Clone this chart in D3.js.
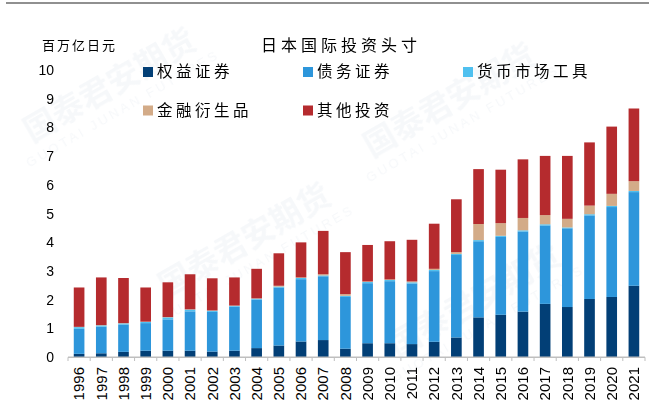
<!doctype html>
<html>
<head>
<meta charset="utf-8">
<script src="https://cdnjs.cloudflare.com/ajax/libs/d3/7.8.5/d3.min.js"></script>
<style>
body { margin: 0; background: #fff; }
svg { display: block; }
text { font-family: "Liberation Sans", Arial, sans-serif; }
.cjk { font-family: "Noto Sans CJK SC", sans-serif; }
</style>
</head>
<body>
<svg id="chart" width="649" height="414"></svg>
<script>
// 日本国际投资头寸, unit: 百万亿日元
var years = ["1996","1997","1998","1999","2000","2001","2002","2003","2004","2005","2006","2007","2008",
             "2009","2010","2011","2012","2013","2014","2015","2016","2017","2018","2019","2020","2021"];
var equity = [0.12,0.14,0.19,0.23,0.23,0.23,0.20,0.23,0.32,0.41,0.55,0.60,0.30,
              0.49,0.49,0.46,0.54,0.69,1.39,1.48,1.59,1.86,1.75,2.03,2.10,2.49];
var debt   = [0.87,0.93,0.95,0.96,1.09,1.37,1.38,1.53,1.69,2.02,2.17,2.22,1.80,
              2.09,2.16,2.11,2.46,2.87,2.65,2.71,2.79,2.73,2.74,2.91,3.13,3.26];
var moneyMarket = [0.06,0.04,0.04,0.04,0.07,0.06,0.04,0.03,0.03,0.03,0.04,0.03,0.04,
                   0.04,0.04,0.04,0.04,0.04,0.04,0.04,0.04,0.04,0.03,0.04,0.04,0.04];
var derivatives = [0.01,0.01,0.01,0.01,0.01,0.01,0.01,0.01,0.01,0.03,0.02,0.04,0.06,
                   0.02,0.02,0.03,0.04,0.06,0.56,0.44,0.43,0.32,0.30,0.30,0.42,0.34];
var otherInv = [1.37,1.66,1.57,1.19,1.21,1.22,1.12,0.98,1.03,1.13,1.22,1.51,1.46,
                1.27,1.33,1.45,1.57,1.84,1.91,1.86,2.04,2.06,2.19,2.20,2.34,2.53];
var seriesNames = ["权益证券","债务证券","货币市场工具","金融衍生品","其他投资"];
var colors = ["#023f76","#2d96db","#4fc0ef","#d3ab88","#b52b2e"];
var yTicks = [0,1,2,3,4,5,6,7,8,9,10];

var svg = d3.select("#chart");

// faint watermark
var wm = svg.append("g").attr("fill", "#4a6f9a").attr("opacity", 0.05);
[[115,95],[250,250],[455,110],[480,310]].forEach(function(p) {
  var g = wm.append("g").attr("transform", "translate(" + p[0] + "," + p[1] + ") rotate(-30)");
  g.append("text").attr("class", "cjk").attr("text-anchor", "middle")
    .style("font-size", "32px").style("font-weight", "bold").text("国泰君安期货");
  g.append("text").attr("text-anchor", "middle").attr("y", 20)
    .style("font-size", "13px").style("letter-spacing", "3px").text("GUOTAI JUNAN FUTURES");
});

svg.append("line").attr("x1", 6).attr("x2", 649).attr("y1", 3).attr("y2", 3)
  .attr("stroke", "#6b6b6b").attr("stroke-width", 1.5);

var table = years.map(function(y, i) {
  return { year: y, s0: equity[i], s1: debt[i], s2: moneyMarket[i], s3: derivatives[i], s4: otherInv[i] };
});
var stack = d3.stack().keys(["s0","s1","s2","s3","s4"])(table);

var x = d3.scaleBand().domain(years).range([68, 645]).paddingInner(0.52).paddingOuter(0.26);
var y = d3.scaleLinear().domain([0, 10]).range([357.3, 70]);

svg.append("g").selectAll("g")
  .data(stack).enter().append("g")
  .attr("fill", function(d, i) { return colors[i]; })
  .selectAll("rect")
  .data(function(d) { return d; }).enter().append("rect")
  .attr("x", function(d) { return x(d.data.year); })
  .attr("width", x.bandwidth())
  .attr("y", function(d) { return y(d[1]); })
  .attr("height", function(d) { return y(d[0]) - y(d[1]); });

// x axis line and category ticks
var step = x.step();
svg.append("line").attr("x1", 68).attr("x2", 645).attr("y1", 357.3).attr("y2", 357.3)
  .attr("stroke", "#bfbfbf").attr("stroke-width", 1.5);
svg.append("g").selectAll("line")
  .data(d3.range(years.length + 1)).enter().append("line")
  .attr("x1", function(i) { return 68 + i * step; })
  .attr("x2", function(i) { return 68 + i * step; })
  .attr("y1", 357.3).attr("y2", 361)
  .attr("stroke", "#bfbfbf");

svg.append("g").selectAll("text")
  .data(years).enter().append("text")
  .attr("transform", function(d) { return "translate(" + (x(d) + x.bandwidth() / 2) + ",367) rotate(-90)"; })
  .attr("text-anchor", "end").attr("dy", "0.35em")
  .style("font-size", "15px").attr("fill", "#000")
  .text(function(d) { return d; });

svg.append("g").selectAll("text")
  .data(yTicks).enter().append("text")
  .attr("x", 54).attr("y", function(d) { return y(d); })
  .attr("dy", "0.35em").attr("text-anchor", "end")
  .style("font-size", "14px").attr("fill", "#000")
  .text(function(d) { return d; });

svg.append("text").attr("class", "cjk").attr("x", 42).attr("y", 45).attr("dy", "0.35em")
  .style("font-size", "13px").style("letter-spacing", "2px").text("百万亿日元");

svg.append("text").attr("class", "cjk").attr("x", 341).attr("y", 45).attr("dy", "0.35em")
  .attr("text-anchor", "middle")
  .style("font-size", "16px").style("letter-spacing", "4px").text("日本国际投资头寸");

// legend
var legendPos = [[143,72],[303,72],[463,72],[143,110.5],[303,110.5]];
var lg = svg.append("g").selectAll("g")
  .data(seriesNames).enter().append("g")
  .attr("transform", function(d, i) { return "translate(" + legendPos[i][0] + "," + legendPos[i][1] + ")"; });
lg.append("rect").attr("x", 0).attr("y", -5).attr("width", 10).attr("height", 10)
  .attr("fill", function(d, i) { return colors[i]; });
lg.append("text").attr("class", "cjk").attr("x", 14).attr("dy", "0.35em")
  .style("font-size", "15.5px").style("letter-spacing", "3.5px")
  .text(function(d) { return d; });
</script>
</body>
</html>
